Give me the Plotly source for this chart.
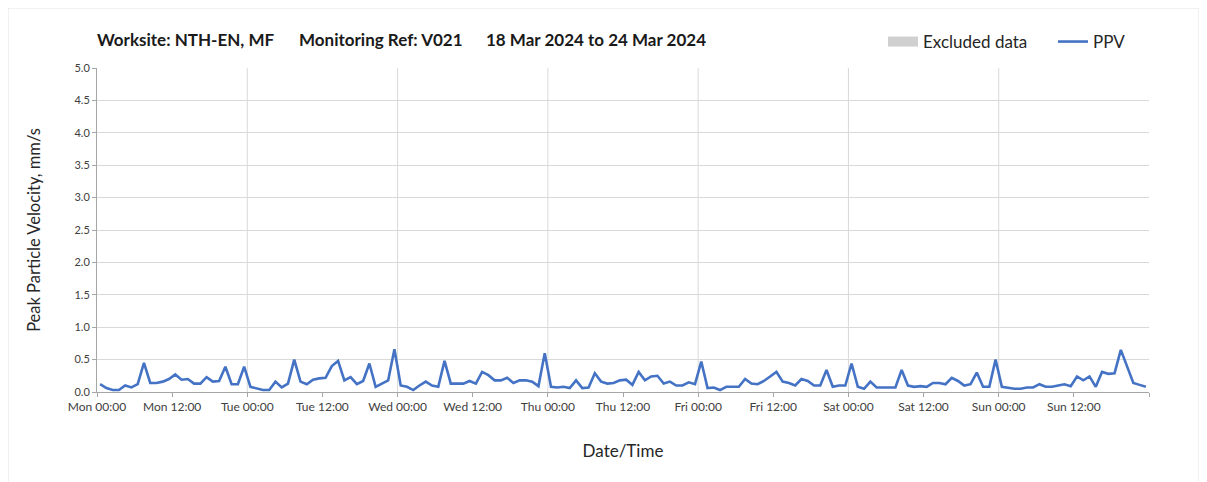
import pandas as pd
import plotly.graph_objects as go

# Hourly PPV readings (mm/s), one list per day, points stamped at HH:30
ppv_mon = [0.12, 0.06, 0.03, 0.03, 0.10, 0.07, 0.12, 0.45, 0.14, 0.14, 0.16, 0.20,
           0.27, 0.19, 0.20, 0.13, 0.13, 0.23, 0.16, 0.17, 0.39, 0.12, 0.12, 0.39]
ppv_tue = [0.08, 0.05, 0.03, 0.03, 0.16, 0.07, 0.13, 0.50, 0.16, 0.12, 0.19, 0.21,
           0.22, 0.40, 0.48, 0.18, 0.23, 0.12, 0.17, 0.44, 0.08, 0.13, 0.18, 0.66]
ppv_wed = [0.10, 0.08, 0.03, 0.10, 0.16, 0.10, 0.08, 0.48, 0.13, 0.13, 0.13, 0.17,
           0.13, 0.31, 0.26, 0.18, 0.18, 0.22, 0.14, 0.18, 0.18, 0.16, 0.09, 0.60]
ppv_thu = [0.08, 0.07, 0.08, 0.06, 0.18, 0.06, 0.07, 0.29, 0.16, 0.13, 0.14, 0.18,
           0.19, 0.11, 0.31, 0.18, 0.24, 0.25, 0.13, 0.16, 0.10, 0.10, 0.15, 0.12]
ppv_fri = [0.47, 0.06, 0.07, 0.03, 0.08, 0.08, 0.08, 0.20, 0.13, 0.12, 0.17, 0.24,
           0.31, 0.16, 0.14, 0.10, 0.20, 0.17, 0.10, 0.10, 0.34, 0.08, 0.10, 0.10]
ppv_sat = [0.44, 0.08, 0.05, 0.16, 0.07, 0.07, 0.07, 0.07, 0.34, 0.10, 0.08, 0.09,
           0.08, 0.14, 0.14, 0.12, 0.22, 0.17, 0.10, 0.12, 0.30, 0.08, 0.08, 0.50]
ppv_sun = [0.08, 0.06, 0.05, 0.05, 0.07, 0.07, 0.12, 0.08, 0.08, 0.10, 0.12, 0.09,
           0.24, 0.18, 0.24, 0.08, 0.31, 0.28, 0.29, 0.65, 0.39, 0.14, 0.11, 0.08]

start_time = "2024-03-18 00:30"
range_start = "2024-03-18 00:00"
range_end = "2024-03-25 00:00"
last_label = "2024-03-24 12:00"

title_parts = ["Worksite: NTH-EN, MF", "Monitoring Ref: V021", "18 Mar 2024 to 24 Mar 2024"]

ppv = ppv_mon + ppv_tue + ppv_wed + ppv_thu + ppv_fri + ppv_sat + ppv_sun
times = pd.date_range(start_time, periods=len(ppv), freq="h")
day_lines = pd.date_range(range_start, range_end, freq="D")
label_ticks = pd.date_range(range_start, last_label, freq="12h")

FONT = "Lato, 'Open Sans', sans-serif"
GRID = "#d9d9d9"
AXIS = "#a6a6a6"

# figure is placed at (8, 8) in the page by the default body margin
W, H = 1191, 480
L, T, R_EDGE, B_EDGE = 89, 60, 1141, 384  # plot area in figure px


def px_x(X):
    return (X - 8 - L) / (R_EDGE - L)


fig = go.Figure()
fig.add_trace(go.Scatter(
    x=[None], y=[None], mode="lines", name="Excluded data",
    line=dict(color="#d0d0d0", width=10), hoverinfo="skip"))
fig.add_trace(go.Scatter(
    x=times, y=ppv, mode="lines", name="PPV",
    line=dict(color="#4472C4", width=2.6)))

shapes = [dict(type="rect", xref="paper", yref="paper",
               x0=-L / (R_EDGE - L), x1=(W - L) / (R_EDGE - L),
               y0=-(H - B_EDGE) / (B_EDGE - T), y1=1 + T / (B_EDGE - T),
               line=dict(color="#e3e3e3", width=1), layer="below")]
for d in day_lines[1:-1]:
    shapes.append(dict(type="line", xref="x", yref="paper", x0=d, x1=d, y0=0, y1=1,
                       line=dict(color=GRID, width=1), layer="below"))

title_x = [95, 297, 484]
annotations = []
for txt, xx in zip(title_parts, title_x):
    annotations.append(dict(text="<b>" + txt + "</b>", xref="paper", yref="paper",
                            x=px_x(xx), xanchor="left",
                            y=1 + (T - 31) / (B_EDGE - T), yanchor="middle",
                            showarrow=False,
                            font=dict(size=17, color="#1a1a1a", family=FONT)))

fig.update_layout(
    width=W, height=H,
    margin=dict(l=L, r=W - R_EDGE, t=T, b=H - B_EDGE, autoexpand=False),
    paper_bgcolor="white", plot_bgcolor="white",
    font=dict(family=FONT, color="#404040"),
    legend=dict(orientation="h", xref="container", yref="container",
                x=(883 - 8) / W, xanchor="left", y=1 - 34 / H, yanchor="middle",
                font=dict(size=17, color="#262626"), entrywidth=125,
                itemwidth=30, bgcolor="rgba(0,0,0,0)"),
    showlegend=True,
    shapes=shapes,
    annotations=annotations,
)

fig.update_xaxes(
    type="date", range=[range_start, range_end],
    tickvals=label_ticks, tickformat="%a %H:%M",
    showgrid=False, showline=True, linecolor=AXIS, linewidth=1,
    ticks="outside", ticklen=4, tickcolor=AXIS,
    minor=dict(ticks="outside", dtick=12 * 3600 * 1000, tick0=range_start,
               ticklen=4, tickcolor=AXIS, showgrid=False),
    tickfont=dict(size=12, color="#404040"),
    title=dict(text="Date/Time", font=dict(size=17, color="#262626"), standoff=31),
    zeroline=False,
)
fig.update_yaxes(
    range=[0, 5], dtick=0.5, tickformat=".1f",
    showgrid=True, gridcolor=GRID, gridwidth=1,
    showline=True, linecolor=AXIS, linewidth=1,
    ticks="outside", ticklen=4, tickcolor=AXIS,
    tickfont=dict(size=11, color="#404040"),
    title=dict(text="Peak Particle Velocity, mm/s", font=dict(size=16.5, color="#262626"),
               standoff=29),
    zeroline=False,
)

fig.write_html("out.html")
